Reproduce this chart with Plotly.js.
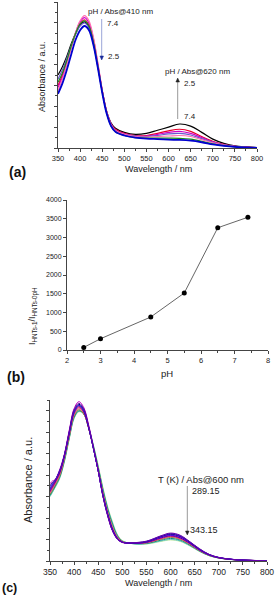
<!DOCTYPE html>
<html>
<head>
<meta charset="utf-8">
<script src="https://cdn.plot.ly/plotly-3.0.1.min.js"></script>
<style>html,body{margin:0;padding:0;background:#fff;}#plot{width:276px;height:597px;}</style>
</head>
<body>
<div id="plot"></div>
<script>
// ---------- Panel (a): pH series ----------
const wlA = [350,360,370,380,390,400,410,420,430,440,450,460,470,480,500,525,550,575,600,625,650,675,700,725,750,775,800];
const aBlack  = [0.70,0.78,0.88,1.00,1.10,1.18,1.21,1.16,1.01,0.79,0.55,0.35,0.24,0.19,0.15,0.13,0.14,0.17,0.20,0.23,0.21,0.15,0.085,0.045,0.02,0.01,0.004];
const aRed    = [0.60,0.70,0.83,0.97,1.10,1.19,1.23,1.18,1.03,0.80,0.55,0.35,0.23,0.18,0.14,0.12,0.12,0.14,0.165,0.18,0.16,0.11,0.065,0.035,0.017,0.008,0.003];
const aMag    = [0.58,0.68,0.82,0.97,1.11,1.21,1.25,1.20,1.05,0.81,0.55,0.35,0.23,0.17,0.135,0.115,0.115,0.13,0.15,0.16,0.14,0.10,0.06,0.03,0.015,0.007,0.003];
const aViolet = [0.66,0.75,0.86,0.98,1.09,1.17,1.20,1.15,1.00,0.78,0.54,0.34,0.22,0.165,0.13,0.115,0.11,0.12,0.135,0.14,0.125,0.09,0.055,0.03,0.015,0.007,0.003];
const aPink   = [0.55,0.66,0.80,0.96,1.11,1.22,1.27,1.22,1.06,0.82,0.56,0.35,0.22,0.165,0.13,0.11,0.105,0.11,0.115,0.12,0.11,0.08,0.05,0.027,0.013,0.006,0.002];
const aGreen  = [0.63,0.72,0.84,0.98,1.10,1.19,1.22,1.17,1.02,0.79,0.54,0.34,0.21,0.155,0.12,0.10,0.095,0.095,0.095,0.093,0.085,0.065,0.04,0.022,0.011,0.005,0.002];
const aBlue   = [0.52,0.62,0.75,0.90,1.04,1.13,1.17,1.13,0.99,0.77,0.53,0.33,0.21,0.155,0.12,0.10,0.09,0.085,0.08,0.077,0.07,0.055,0.035,0.02,0.01,0.005,0.002];
const aSeries = [aBlack,aRed,aMag,aViolet,aPink,aGreen,aBlue];
const aColors = ['#000000','#e8002a','#d000c8','#6a5acd','#ff6fb0','#1a8a1a','#0000d0'];
const aWidths = [1.2,1.2,1.2,1.2,1.2,1.2,1.8];

// ---------- Panel (b) ----------
const pH    = [2.5,3.0,4.5,5.5,6.5,7.4];
const ratio = [70,300,880,1520,3260,3540];

// ---------- Panel (c): temperature series ----------
const wlC = [350,355,360,370,380,390,400,410,420,430,440,450,460,470,480,490,500,520,550,580,600,620,640,660,680,700,725,750,800];
const temps = ['289.15','294.15','299.15','304.15','309.15','314.15','319.15','324.15','329.15','334.15','339.15','343.15'];
const c1  = [0.66,0.70,0.74,0.83,0.99,1.21,1.41,1.47,1.42,1.26,1.06,0.84,0.60,0.42,0.28,0.205,0.175,0.17,0.185,0.235,0.26,0.24,0.18,0.115,0.062,0.034,0.017,0.009,0.002];
const c2  = [0.68,0.72,0.75,0.84,0.99,1.20,1.39,1.45,1.40,1.25,1.05,0.84,0.60,0.42,0.28,0.205,0.175,0.17,0.183,0.232,0.255,0.235,0.178,0.112,0.06,0.033,0.017,0.009,0.002];
const c3  = [0.70,0.73,0.75,0.84,0.99,1.20,1.40,1.46,1.41,1.25,1.05,0.84,0.60,0.42,0.28,0.205,0.175,0.168,0.18,0.228,0.25,0.23,0.175,0.11,0.06,0.032,0.016,0.008,0.002];
const c4  = [0.72,0.745,0.755,0.85,1.00,1.22,1.42,1.485,1.43,1.27,1.06,0.84,0.60,0.41,0.275,0.20,0.172,0.166,0.178,0.224,0.245,0.225,0.172,0.108,0.058,0.031,0.016,0.008,0.002];
const c5  = [0.67,0.71,0.74,0.83,0.98,1.20,1.39,1.45,1.40,1.25,1.05,0.84,0.61,0.43,0.29,0.21,0.175,0.165,0.176,0.22,0.24,0.22,0.168,0.105,0.057,0.031,0.016,0.008,0.002];
const c6  = [0.65,0.69,0.73,0.82,0.98,1.19,1.38,1.44,1.39,1.24,1.05,0.84,0.61,0.43,0.29,0.21,0.175,0.165,0.174,0.215,0.235,0.215,0.164,0.102,0.056,0.03,0.015,0.008,0.002];
const c7  = [0.64,0.68,0.72,0.81,0.97,1.18,1.37,1.43,1.38,1.24,1.05,0.84,0.62,0.44,0.30,0.215,0.178,0.165,0.172,0.21,0.23,0.21,0.16,0.10,0.055,0.03,0.015,0.008,0.002];
const c8  = [0.63,0.67,0.71,0.80,0.96,1.17,1.36,1.42,1.38,1.24,1.05,0.85,0.63,0.45,0.31,0.22,0.18,0.165,0.17,0.206,0.225,0.206,0.157,0.098,0.054,0.029,0.015,0.008,0.002];
const c9  = [0.62,0.66,0.70,0.79,0.95,1.16,1.35,1.41,1.37,1.24,1.06,0.86,0.64,0.46,0.32,0.225,0.182,0.165,0.168,0.202,0.22,0.202,0.154,0.096,0.053,0.029,0.015,0.008,0.002];
const c10 = [0.61,0.65,0.69,0.78,0.94,1.15,1.34,1.40,1.37,1.24,1.07,0.87,0.66,0.48,0.34,0.235,0.185,0.163,0.164,0.194,0.21,0.194,0.148,0.093,0.051,0.028,0.014,0.007,0.002];
const c11 = [0.60,0.64,0.68,0.77,0.93,1.14,1.33,1.395,1.37,1.25,1.08,0.88,0.67,0.49,0.35,0.24,0.188,0.162,0.16,0.186,0.20,0.186,0.142,0.09,0.05,0.027,0.014,0.007,0.002];
const c12 = [0.60,0.64,0.68,0.77,0.93,1.14,1.33,1.39,1.37,1.25,1.08,0.89,0.68,0.50,0.36,0.245,0.19,0.162,0.158,0.182,0.196,0.182,0.14,0.088,0.049,0.027,0.014,0.007,0.002];
const cSeries = [c1,c2,c3,c4,c5,c6,c7,c8,c9,c10,c11,c12];
const cColors = ['#6a00a8','#3a1fd0','#000080','#c000c0','#0000ff','#800080','#e0206a','#c8709a','#8a8a20','#108a8a','#60c8c0','#d8f0a0'];

// ---------- build traces ----------
const traces = [];
aSeries.forEach((s,i)=>traces.push({x:wlA,y:s,type:'scatter',mode:'lines',xaxis:'x',yaxis:'y',
  line:{color:aColors[i],width:aWidths[i],shape:'spline',smoothing:1},hoverinfo:'skip'}));
traces.push({x:pH,y:ratio,type:'scatter',mode:'lines+markers',xaxis:'x2',yaxis:'y2',
  line:{color:'#666',width:1},marker:{color:'#000',size:5},hoverinfo:'skip'});
cSeries.slice().reverse().forEach((s,j)=>{const i=cSeries.length-1-j;
  traces.push({x:wlC,y:s,type:'scatter',mode:'lines',xaxis:'x3',yaxis:'y3',
  line:{color:cColors[i],width:1,shape:'spline',smoothing:1},hoverinfo:'skip'});});

const W=276,H=597;
const px=v=>v/W, py=v=>1-v/H;
const FONT='Liberation Sans, Arial, sans-serif';
const axBase={showline:true,linecolor:'#444',linewidth:1,ticks:'outside',ticklen:3,tickcolor:'#444',
  showgrid:false,zeroline:false,mirror:false,fixedrange:true};

function ann(text,x,y,size,opts){return Object.assign({text:text,x:px(x),y:py(y),xref:'paper',yref:'paper',
  showarrow:false,font:{family:FONT,size:size,color:'#222'},xanchor:'center',yanchor:'middle'},opts||{});}
// vertical arrow as shapes: shaft + triangular head
function arrowShapes(x,yHead,yTail,lineColor,headColor){
  const dir = yHead>yTail ? 1 : -1;       // +1 head points down
  const hl=4, hw=1.8;
  const base = yHead - dir*hl;
  return [
    {type:'line',xref:'paper',yref:'paper',x0:px(x),x1:px(x),y0:py(yTail),y1:py(base),line:{color:lineColor,width:1}},
    {type:'path',xref:'paper',yref:'paper',
     path:`M ${px(x-hw)} ${py(base)} L ${px(x+hw)} ${py(base)} L ${px(x)} ${py(yHead)} Z`,
     fillcolor:headColor,line:{color:headColor,width:0.5}}
  ];
}

const shapes=[].concat(
  arrowShapes(101.7,60,19,'#9aa6d8','#1a2a9a'),
  arrowShapes(177.7,78,119,'#999999','#222222'),
  arrowShapes(187.3,535,486,'#999999','#222222')
);

const layout={
  width:W,height:H,margin:{l:0,r:0,t:0,b:0},paper_bgcolor:'#fff',plot_bgcolor:'#fff',showlegend:false,
  font:{family:FONT,color:'#222'},
  xaxis:Object.assign({},axBase,{domain:[px(58),px(257)],range:[350,800],dtick:50,tick0:350,
    tickfont:{size:7.5,family:FONT,color:'#222'},minor:{ticks:'outside',ticklen:2,dtick:25,tickcolor:'#444'},anchor:'y'}),
  yaxis:Object.assign({},axBase,{domain:[py(148),py(2)],range:[0,1.4],dtick:0.2,showticklabels:false,
    minor:{ticks:'outside',ticklen:2,dtick:0.1,tickcolor:'#444'},anchor:'x'}),
  xaxis2:Object.assign({},axBase,{domain:[px(67),px(268)],range:[2,8],dtick:1,
    tickfont:{size:7.5,family:FONT,color:'#222'},minor:{ticks:'outside',ticklen:2,dtick:0.5,tickcolor:'#444'},anchor:'y2'}),
  yaxis2:Object.assign({},axBase,{domain:[py(350),py(200)],range:[0,4000],dtick:500,
    tickfont:{size:7,family:FONT,color:'#222'},anchor:'x2'}),
  xaxis3:Object.assign({},axBase,{domain:[px(50),px(267)],range:[350,800],dtick:50,tick0:350,
    tickfont:{size:8.5,family:FONT,color:'#222'},minor:{ticks:'outside',ticklen:2,dtick:25,tickcolor:'#444'},anchor:'y3'}),
  yaxis3:Object.assign({},axBase,{domain:[py(561),py(400)],range:[0,1.5],dtick:0.2,showticklabels:false,
    minor:{ticks:'outside',ticklen:2,dtick:0.1,tickcolor:'#444'},anchor:'x3'}),
  shapes:shapes,
  annotations:[
    ann('Wavelength / nm',158,169,9),
    ann('Absorbance / a.u.',42,77,9,{textangle:-90}),
    ann('pH / Abs@410 nm',120,12,8),
    ann('7.4',105,23,8,{xanchor:'left'}),
    ann('2.5',106,57,8,{xanchor:'left'}),
    ann('pH / Abs@620 nm',197,71,8),
    ann('2.5',182,83,8,{xanchor:'left'}),
    ann('7.4',182,117,8,{xanchor:'left'}),
    ann('(a)',17,172,14,{font:{family:FONT,size:14,color:'#111',weight:'bold'}}),
    ann('pH',167,373,9.5),
    ann('I<sub>HNTs-1</sub>/I<sub>HNTs-0pH</sub>',33,316,9,{textangle:-90}),
    ann('(b)',16,377,14,{font:{family:FONT,size:14,color:'#111',weight:'bold'}}),
    ann('Wavelength / nm',158,583,9),
    ann('Absorbance / a.u.',28,480,11,{textangle:-90}),
    ann('T (K) / Abs@600 nm',201,479,9.5),
    ann('289.15',190,491,9,{xanchor:'left'}),
    ann('343.15',188,530,9,{xanchor:'left'}),
    ann('(c)',9,588,12.5,{font:{family:FONT,size:12.5,color:'#111',weight:'bold'}})
  ]
};
Plotly.newPlot('plot',traces,layout,{staticPlot:true,displayModeBar:false});
</script>
</body>
</html>
